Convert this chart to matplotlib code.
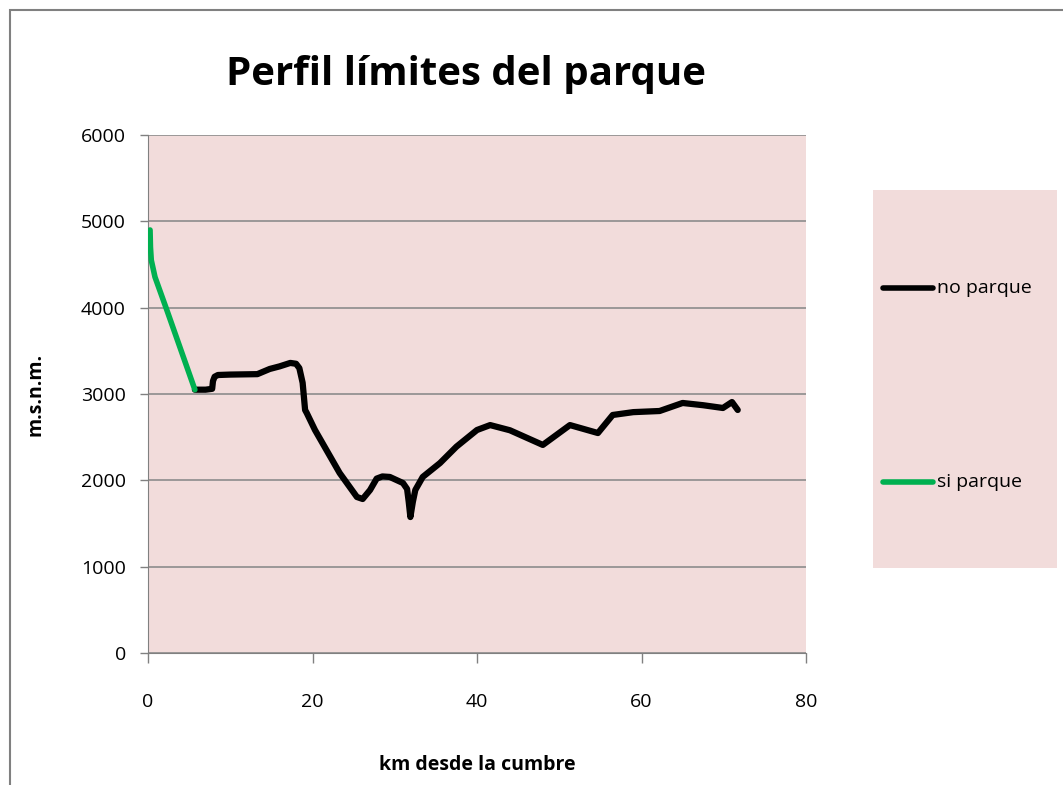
import matplotlib.pyplot as plt
from matplotlib.patches import Rectangle
from matplotlib.lines import Line2D

# valores
si_km = [0.25, 0.3, 0.4, 0.85, 2.3, 5.7]
si_alt = [4900, 4700, 4550, 4355, 3970, 3050]

no_km = [5.7, 7.0, 7.8, 7.9, 8.1, 8.5, 10.0, 13.3, 14.8, 16.0, 17.3, 18.0,
         18.4, 18.8, 19.1, 19.3, 20.3, 23.3, 25.4, 26.1, 27.0, 27.8, 28.5,
         29.4, 31.0, 31.5, 31.7, 31.9, 32.2, 32.5, 33.4, 35.5, 37.5, 40.0,
         41.6, 44.0, 48.0, 51.3, 54.7, 56.5, 59.0, 62.2, 65.0, 67.5, 69.9,
         71.0, 71.7]
no_alt = [3050, 3050, 3060, 3150, 3200, 3220, 3225, 3230, 3290, 3320, 3360, 3350,
          3300, 3130, 2815, 2780, 2583, 2085, 1807, 1784, 1888, 2020, 2045,
          2039, 1969, 1900, 1750, 1575, 1750, 1888, 2039, 2200, 2390, 2583,
          2640, 2580, 2410, 2640, 2548, 2757, 2790, 2803, 2896, 2870, 2838,
          2907, 2815]

x_ticks = [0, 20, 40, 60, 80]
y_ticks = [0, 1000, 2000, 3000, 4000, 5000, 6000]

fondo = '#F2DCDB'
verde = '#00B050'
fuente = ['Open Sans', 'DejaVu Sans']
plt.rcParams['font.family'] = fuente

fig = plt.figure(figsize=(10.63, 7.85), dpi=100)
fig.patches.append(Rectangle((10 / 1063, -0.1), 1.2, 1 - 10 / 785 + 0.1,
                             transform=fig.transFigure, fill=False,
                             edgecolor='#808080', linewidth=1.5))

ax = fig.add_axes([148 / 1063, 1 - 653 / 785, 658 / 1063, 518 / 785])
ax.set_facecolor(fondo)
ax.plot(no_km, no_alt, color='black', linewidth=4.5, solid_capstyle='round',
        solid_joinstyle='round', zorder=3)
ax.plot(si_km, si_alt, color=verde, linewidth=4, solid_capstyle='round',
        solid_joinstyle='round', zorder=4)

ax.set_xlim(0, 80)
ax.set_ylim(0, 6000)
ax.set_xticks(x_ticks)
ax.set_yticks(y_ticks)
ax.tick_params(labelsize=14, colors='#808080', labelcolor='black', width=1)
ax.tick_params(axis='x', length=7, pad=22)
ax.tick_params(axis='y', length=6, pad=10)
ax.grid(axis='y', color='#8C8C8C', linewidth=1.2)
ax.set_axisbelow(True)
for lado in ['top', 'right']:
    ax.spines[lado].set_visible(False)
for lado in ['left', 'bottom']:
    ax.spines[lado].set_color('#808080')

fig.text(466 / 1063, 1 - 75 / 785, 'Perfil límites del parque', fontsize=29,
         fontweight='bold', ha='center', va='center')
fig.text(35 / 1063, 1 - 394 / 785, 'm.s.n.m.', fontsize=14, fontweight='bold',
         rotation=90, ha='center', va='center')
fig.text(477 / 1063, 1 - 765 / 785, 'km desde la cumbre', fontsize=14,
         fontweight='bold', ha='center', va='center')

# caja de leyenda
fig.patches.append(Rectangle((873 / 1063, 1 - 568 / 785), 184 / 1063, 378 / 785,
                             transform=fig.transFigure, facecolor=fondo,
                             edgecolor='none'))
for ypx, color, texto in [(288, 'black', 'no parque'), (482, verde, 'si parque')]:
    fy = 1 - ypx / 785
    fig.lines.append(Line2D([883 / 1063, 933 / 1063], [fy, fy], color=color,
                            linewidth=4, solid_capstyle='round',
                            transform=fig.transFigure))
    fig.text(937 / 1063, fy, texto, fontsize=14, ha='left', va='center')

plt.savefig('out.png', dpi=100, facecolor='white')
